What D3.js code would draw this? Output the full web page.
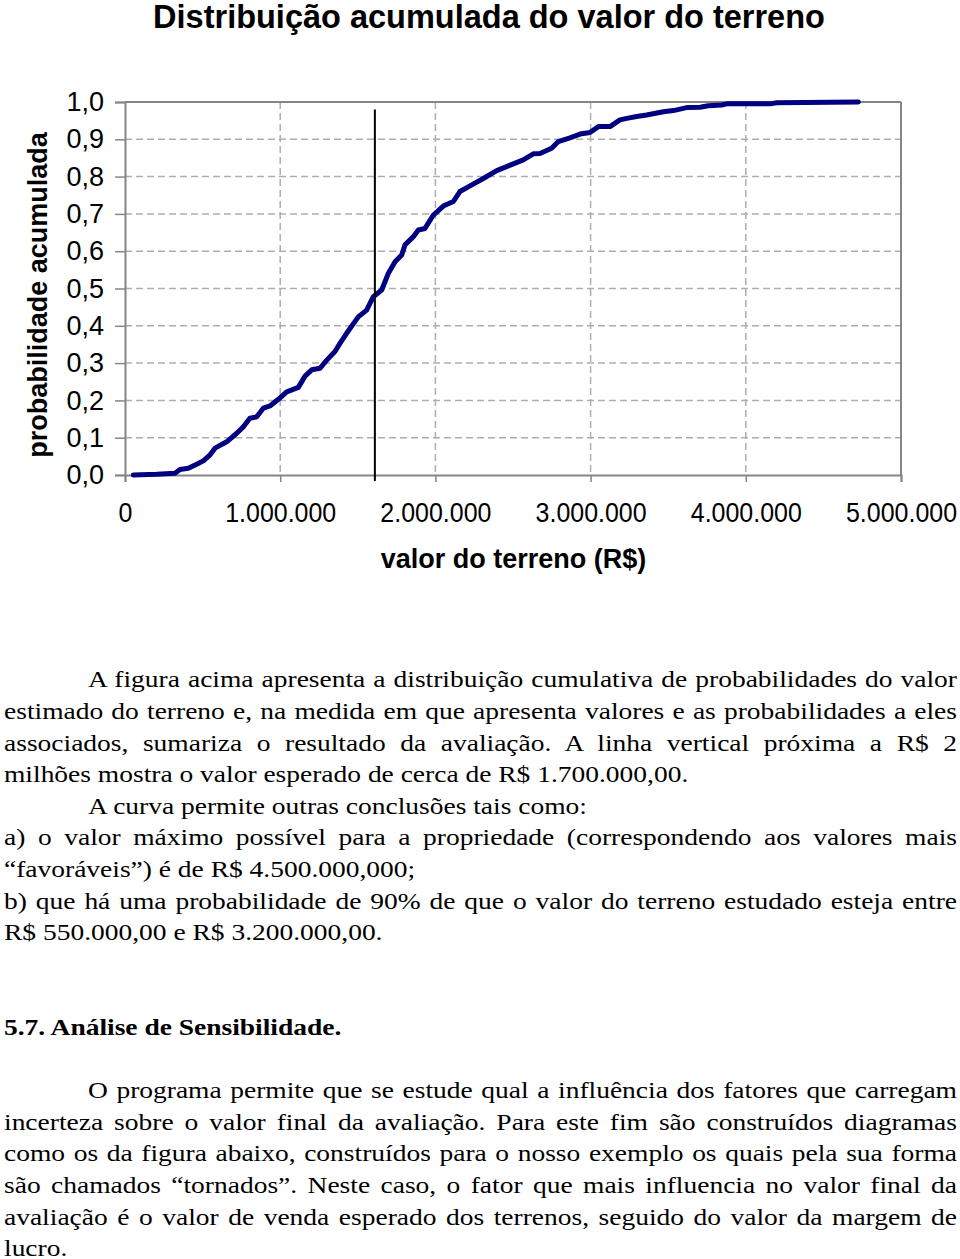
<!DOCTYPE html>
<html><head><meta charset="utf-8">
<script src="https://cdn.jsdelivr.net/npm/d3@7"></script>
<style>html,body{margin:0;padding:0;background:#fff;} svg{display:block;}</style>
</head><body>
<svg id="c" width="960" height="1259"></svg>
<script>
// ---- data ----
const chartTitle = "Distribuição acumulada do valor do terreno";
const yTitle = "probabilidade acumulada";
const xTitle = "valor do terreno (R$)";
const xTicks = [0, 1000000, 2000000, 3000000, 4000000, 5000000];
const yTicks = [0, 0.1, 0.2, 0.3, 0.4, 0.5, 0.6, 0.7, 0.8, 0.9, 1.0];
const expectedValue = 1610000;
const landValues = [53000, 204000, 322000, 354000, 408000, 462000, 505000, 548000, 580000, 655000,
  720000, 762000, 805000, 849000, 891000, 934000, 988000, 1042000, 1117000, 1160000,
  1203000, 1256000, 1300000, 1353000, 1385000, 1428000, 1503000, 1557000, 1600000, 1654000,
  1697000, 1740000, 1783000, 1804000, 1858000, 1890000, 1933000, 1987000, 2051000, 2115000,
  2158000, 2223000, 2309000, 2395000, 2502000, 2566000, 2631000, 2674000, 2749000, 2792000,
  2867000, 2932000, 2996000, 3050000, 3125000, 3189000, 3233000, 3297000, 3361000, 3469000,
  3533000, 3619000, 3705000, 3758000, 3845000, 3877000, 4156000, 4199000, 4725000];
const cumulativeProb = [0, 0.002, 0.005, 0.015, 0.018, 0.029, 0.038, 0.054, 0.072, 0.089,
  0.112, 0.129, 0.152, 0.156, 0.179, 0.185, 0.203, 0.223, 0.235, 0.265,
  0.282, 0.286, 0.308, 0.331, 0.353, 0.380, 0.424, 0.442, 0.478, 0.496,
  0.541, 0.572, 0.590, 0.617, 0.639, 0.657, 0.661, 0.697, 0.721, 0.733,
  0.760, 0.775, 0.795, 0.816, 0.834, 0.845, 0.861, 0.862, 0.876, 0.894,
  0.904, 0.914, 0.918, 0.934, 0.934, 0.952, 0.956, 0.961, 0.965, 0.974,
  0.977, 0.985, 0.986, 0.990, 0.992, 0.995, 0.995, 0.998, 1.0];

// body text lines: [text, indent, justify, bold]
const textLines = [
  ["A figura acima apresenta a distribuição cumulativa de probabilidades do valor", true, true, false],
  ["estimado do terreno e, na medida em que apresenta valores e as probabilidades a eles", false, true, false],
  ["associados, sumariza o resultado da avaliação. A linha vertical próxima a R$ 2", false, true, false],
  ["milhões mostra o valor esperado de cerca de R$ 1.700.000,00.", false, false, false],
  ["A curva permite outras conclusões tais como:", true, false, false],
  ["a) o valor máximo possível para a propriedade (correspondendo aos valores mais", false, true, false],
  ["“favoráveis”) é de R$ 4.500.000,000;", false, false, false],
  ["b) que há uma probabilidade de 90% de que o valor do terreno estudado esteja entre", false, true, false],
  ["R$ 550.000,00 e R$ 3.200.000,00.", false, false, false],
  ["", false, false, false],
  ["", false, false, false],
  ["5.7. Análise de Sensibilidade.", false, false, true],
  ["", false, false, false],
  ["O programa permite que se estude qual a influência dos fatores que carregam", true, true, false],
  ["incerteza sobre o valor final da avaliação. Para este fim são construídos diagramas", false, true, false],
  ["como os da figura abaixo, construídos para o nosso exemplo os quais pela sua forma", false, true, false],
  ["são chamados “tornados”. Neste caso, o fator que mais influencia no valor final da", false, true, false],
  ["avaliação é o valor de venda esperado dos terrenos, seguido do valor da margem de", false, true, false],
  ["lucro.", false, false, false]
];

// ---- drawing ----
const svg = d3.select("#c");
const SANS = "'Liberation Sans', Arial, Helvetica, sans-serif";
const SERIF = "'Liberation Serif', 'Times New Roman', Times, serif";
const m = {left:125, right:901, top:102, bottom:475};
const x = d3.scaleLinear().domain([0, 5000000]).range([m.left, m.right]);
const y = d3.scaleLinear().domain([0, 1]).range([m.bottom, m.top]);
const loc = d3.formatLocale({decimal: ",", thousands: ".", grouping: [3], currency: ["R$ ", ""]});
const fx = loc.format(",.0f");
const fy = loc.format(".1f");
const GRID = "#aeaeae", AXIS = "#858585";

// title
svg.append("text").attr("x", 489).attr("y", 28).attr("text-anchor", "middle")
  .attr("font-family", SANS).attr("font-weight", "bold").attr("font-size", 32.5)
  .text(chartTitle);

// horizontal dashed grid
svg.append("g").selectAll("line").data(yTicks.filter(d => d > 0 && d < 1)).join("line")
  .attr("x1", m.left).attr("x2", m.right).attr("y1", d => y(d)).attr("y2", d => y(d))
  .attr("stroke", GRID).attr("stroke-width", 1.5).attr("stroke-dasharray", "7,4");
// vertical dashed grid
svg.append("g").selectAll("line").data(xTicks.filter(d => d > 0 && d < 5000000)).join("line")
  .attr("x1", d => x(d)).attr("x2", d => x(d)).attr("y1", m.top).attr("y2", m.bottom)
  .attr("stroke", GRID).attr("stroke-width", 1.5).attr("stroke-dasharray", "7,4");

// y axis
const gy = svg.append("g").attr("transform", `translate(${m.left},0)`)
  .call(d3.axisLeft(y).tickValues(yTicks).tickFormat(fy).tickSize(10).tickPadding(11));
gy.select(".domain").attr("stroke", AXIS).attr("stroke-width", 2);
gy.selectAll(".tick line").attr("stroke", AXIS).attr("stroke-width", 1.5);
gy.selectAll(".tick text").attr("font-family", SANS).attr("font-size", 27).attr("fill", "#000");

// x axis
const gx = svg.append("g").attr("transform", `translate(0,${m.bottom})`)
  .call(d3.axisBottom(x).tickValues(xTicks).tickFormat(fx).tickSize(7).tickPadding(21));
gx.select(".domain").attr("stroke", AXIS).attr("stroke-width", 2);
gx.selectAll(".tick line").attr("stroke", AXIS).attr("stroke-width", 1.5);
gx.selectAll(".tick text").attr("font-family", SANS).attr("font-size", 27).attr("fill", "#000")
  .attr("transform", "scale(0.925,1)");

// top and right border
svg.append("line").attr("x1", m.left).attr("x2", m.right).attr("y1", y(1)).attr("y2", y(1))
  .attr("stroke", AXIS).attr("stroke-width", 2);
svg.append("line").attr("x1", m.right).attr("x2", m.right).attr("y1", y(1)).attr("y2", y(0))
  .attr("stroke", AXIS).attr("stroke-width", 2);

// cumulative curve
const pts = landValues.map((v, i) => [v, cumulativeProb[i]]);
svg.append("path").datum(pts)
  .attr("d", d3.line().x(d => x(d[0])).y(d => y(d[1])))
  .attr("fill", "none").attr("stroke", "#000080").attr("stroke-width", 5)
  .attr("stroke-linejoin", "round").attr("stroke-linecap", "round");

// expected value line
svg.append("line").attr("x1", x(expectedValue)).attr("x2", x(expectedValue))
  .attr("y1", y(0.98)).attr("y2", y(0) + 6)
  .attr("stroke", "#000").attr("stroke-width", 2);

// axis titles
svg.append("text").attr("transform", "translate(47,295) rotate(-90)").attr("text-anchor", "middle")
  .attr("font-family", SANS).attr("font-weight", "bold").attr("font-size", 27).text(yTitle);
svg.append("text").attr("x", 513.5).attr("y", 568).attr("text-anchor", "middle")
  .attr("font-family", SANS).attr("font-weight", "bold").attr("font-size", 27).text(xTitle);

// body text (justified lines)
const SX = 1.195, left = 4, right = 957;
const innerW = (right - left) / SX, indentW = (88 - left) / SX;
const tg = svg.append("g").attr("transform", `translate(${left},0) scale(${SX},1)`);
textLines.forEach((ln, i) => {
  if (!ln[0]) return;
  const x0 = ln[1] ? indentW : 0;
  const t = tg.append("text").attr("x", x0).attr("y", 687.5 + i * 31.6)
    .attr("font-family", SERIF).attr("font-size", 23)
    .attr("font-weight", ln[3] ? "bold" : "normal").attr("fill", "#000")
    .text(ln[0]);
  if (ln[2]) {
    const w = t.node().getComputedTextLength();
    const spaces = (ln[0].match(/ /g) || []).length;
    if (spaces) t.attr("word-spacing", (innerW - x0 - w) / spaces);
  }
});
</script>
</body></html>
